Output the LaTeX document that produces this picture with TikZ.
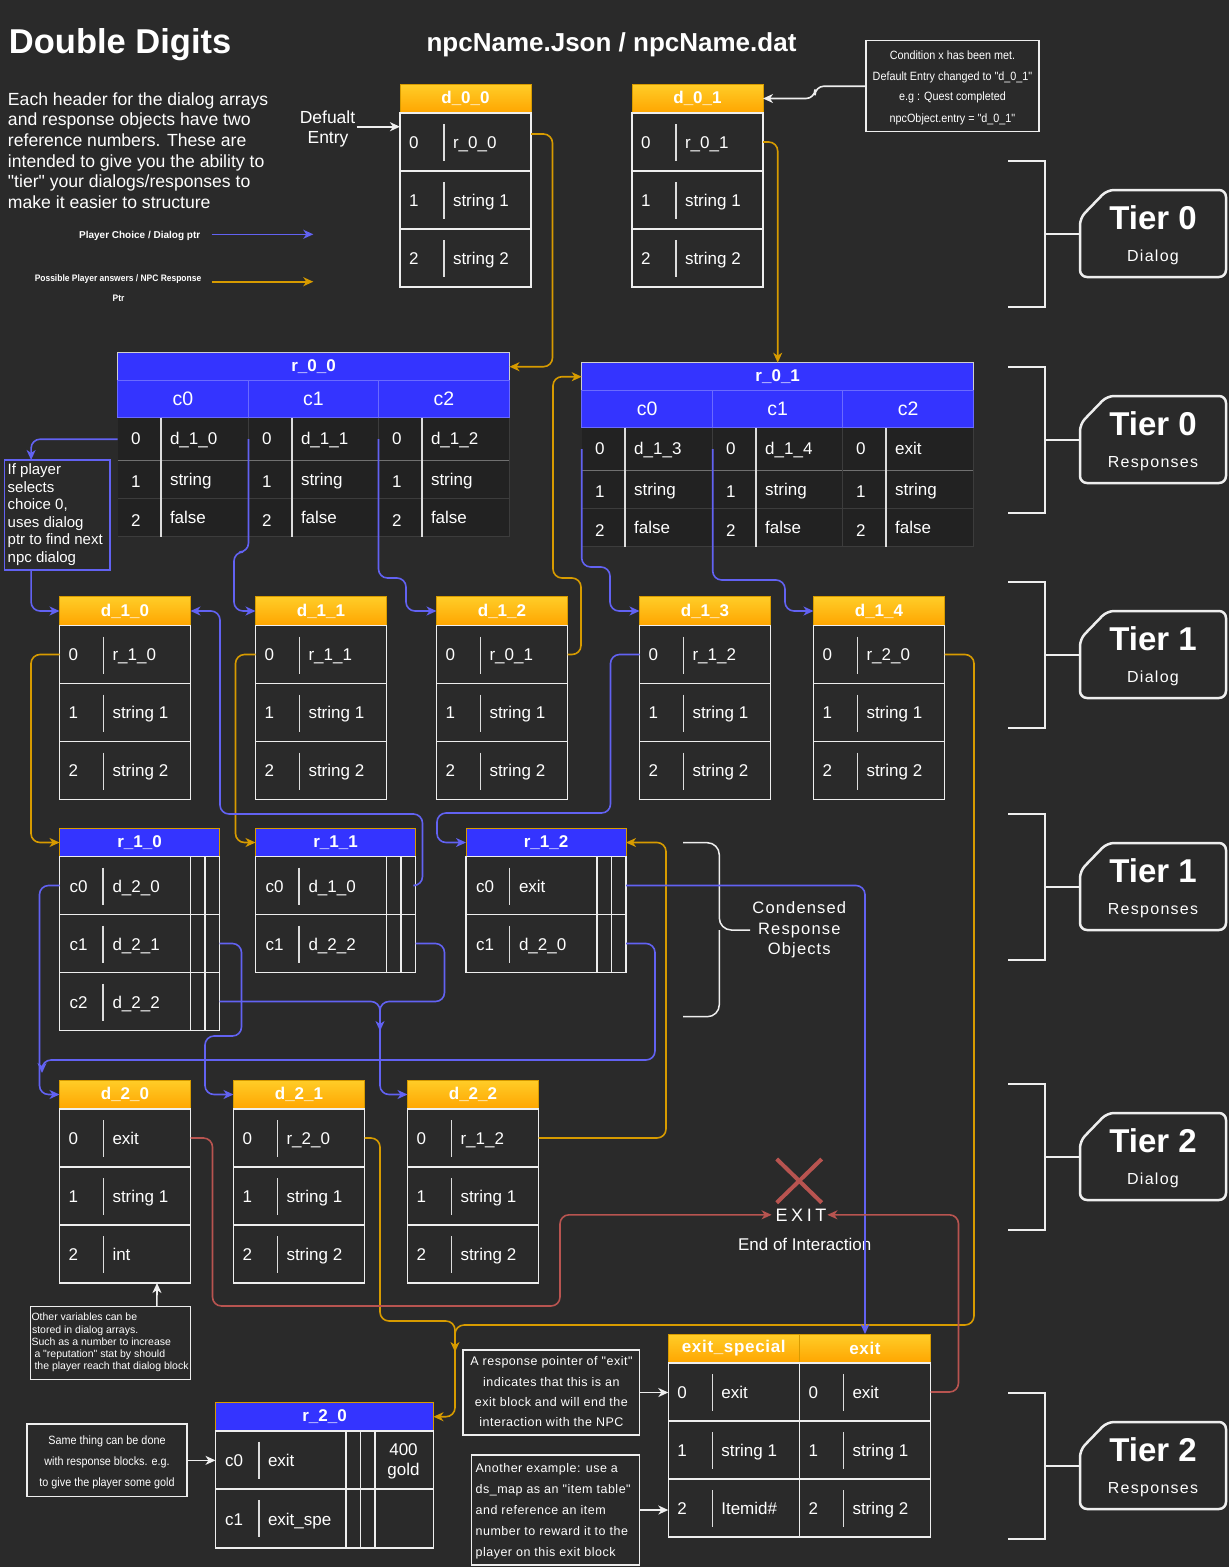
\documentclass[tikz,border=0pt]{standalone}
\usepackage{fontspec}
\setmainfont{Liberation Sans}[Ligatures=TeXOff]
\newfontfamily\condfont{Liberation Sans}[FakeStretch=0.9,Ligatures=TeXOff]
\usetikzlibrary{arrows.meta}

\definecolor{bgc}{HTML}{2A2A2A}
\definecolor{hblue}{HTML}{3434FF}
\definecolor{subl}{HTML}{6A6AFF}
\definecolor{lblue}{HTML}{6262F2}
\definecolor{lor}{HTML}{D79B00}
\definecolor{ored}{HTML}{B85450}
\definecolor{otop}{HTML}{FFCD28}
\definecolor{obot}{HTML}{FFA500}
\definecolor{wl}{HTML}{EEEEEE}
\definecolor{sepc}{HTML}{DDDDDD}
\definecolor{bodyc}{HTML}{222222}
\definecolor{rlone}{HTML}{707070}
\definecolor{rltwo}{HTML}{3C3C3C}
\definecolor{hdrl}{HTML}{CFCFCF}

\newcommand\fsz[1]{\fontsize{#1}{#1}\selectfont}

\tikzset{
  base/.style={inner sep=0pt, outer sep=0pt},
  txt/.style={base, text=white, anchor=base west, font=\fsz{17}},
  ctxt/.style={base, text=white, anchor=base, font=\fsz{17}},
  dhead/.style={base, draw=lor, line width=1pt, top color=otop, bottom color=obot,
    minimum width=131pt, minimum height=29pt, anchor=north west, text=white, font={\bfseries\fsz{17}}},
  drow/.style={base, draw=wl, line width=1.6pt, minimum width=131pt, minimum height=58pt, anchor=north west},
  rrow/.style={base, draw=wl, line width=1.6pt, minimum width=160pt, minimum height=58pt, anchor=north west},
  sepl/.style={draw=sepc, line width=1.5pt},
  sepw/.style={draw=wl, line width=1.5pt},
  rhead/.style={base, draw=lor, line width=1pt, fill=hblue, minimum height=28pt, anchor=north west,
    text=white, font={\bfseries\fsz{17}}},
  bhead/.style={base, draw=hdrl, line width=1pt, fill=hblue, minimum width=392pt, minimum height=28pt,
    anchor=north west, text=white, font={\bfseries\fsz{17}}},
  bsub/.style={base, draw=subl, line width=0.8pt, fill=hblue, minimum height=37pt, anchor=north west,
    text=white, font=\fsz{19.5}},
  bcell/.style={base, anchor=north west, minimum height=43pt},
  rlo/.style={draw=rlone, line width=1.5pt},
  rlt/.style={draw=rltwo, line width=1pt},
  tip/.style={-{Stealth[length=10pt,width=9pt,inset=3pt]}},
  bconn/.style={draw=lblue, line width=1.6pt, rounded corners=9pt, tip},
  oconn/.style={draw=lor, line width=1.6pt, rounded corners=9pt, tip},
  rconn/.style={draw=ored, line width=1.6pt, rounded corners=9pt, tip},
  wconn/.style={draw=wl, line width=1.6pt, rounded corners=9pt, tip},
  note/.style={base, draw=wl, line width=1.5pt, anchor=north west},
  brk/.style={draw=wl, line width=2.5pt},
  tierbox/.style={draw=wl, line width=2.5pt, rounded corners=7pt},
}

% dialog row: name, x, top, num, text
\newcommand\drowm[5]{%
  \node[drow] (#1) at ({#2},{#3}) {};
  \node[txt] (#1-n) at ({#2+9},{#3+35}) {#4};
  \draw[sepl] ({#2+44},{#3+11}) -- ({#2+44},{#3+48});
  \node[txt] (#1-t) at ({#2+53},{#3+35}) {#5};}
% dialog table: name, x, y, title, t0, t1, t2
\newcommand\dtab[7]{%
  \node[dhead] (#1) at ({#2},{#3}) {#4};
  \drowm{#1-0}{#2}{#3+29}{0}{#5}
  \drowm{#1-1}{#2}{#3+87}{1}{#6}
  \drowm{#1-2}{#2}{#3+145}{2}{#7}}
% condensed response row: name, x, top, label, text
\newcommand\rrowm[5]{%
  \node[rrow] (#1) at ({#2},{#3}) {};
  \draw[sepw] ({#2+131},{#3}) -- ({#2+131},{#3+58});
  \draw[sepw] ({#2+145.5},{#3}) -- ({#2+145.5},{#3+58});
  \node[txt] (#1-n) at ({#2+10},{#3+36}) {#4};
  \draw[sepl] ({#2+43.5},{#3+11}) -- ({#2+43.5},{#3+48});
  \node[txt] (#1-t) at ({#2+53},{#3+36}) {#5};}
% big response column: name, colx, y, width, t0
\newcommand\bcolm[5]{%
  \node[bcell, minimum width=#4pt] (#1) at ({#2},{#3+65}) {};
  \draw[sepl] ({#2+43.5},{#3+65}) -- ({#2+43.5},{#3+184});
  \node[txt] (#1-n0) at ({#2+13.5},{#3+92}) {0};
  \node[txt] (#1-t0) at ({#2+52.5},{#3+92}) {#5};
  \node[txt] (#1-n1) at ({#2+13.5},{#3+135}) {1};
  \node[txt] (#1-t1) at ({#2+52.5},{#3+133}) {string};
  \node[txt] (#1-n2) at ({#2+13.5},{#3+173.5}) {2};
  \node[txt] (#1-t2) at ({#2+52.5},{#3+170.5}) {false};}
% big response table: name, x, y, title, t0, t1, t2
\newcommand\bigrtab[7]{%
  \fill[bodyc] ({#2},{#3+65}) rectangle ({#2+392},{#3+184});
  \draw[rlo] ({#2},{#3+108}) -- ({#2+392},{#3+108});
  \draw[rlt] ({#2},{#3+146}) -- ({#2+392},{#3+146});
  \draw[rlt] ({#2},{#3+184}) -- ({#2+392},{#3+184});
  \draw[rlt] ({#2+131},{#3+65}) -- ({#2+131},{#3+184});
  \draw[rlt] ({#2+261},{#3+65}) -- ({#2+261},{#3+184});
  \draw[rlt] ({#2+392},{#3+65}) -- ({#2+392},{#3+184});
  \node[bhead] (#1) at ({#2},{#3}) {#4};
  \node[bsub, minimum width=131pt] (#1-h0) at ({#2},{#3+28}) {c0};
  \node[bsub, minimum width=130pt] (#1-h1) at ({#2+131},{#3+28}) {c1};
  \node[bsub, minimum width=131pt] (#1-h2) at ({#2+261},{#3+28}) {c2};
  \bcolm{#1-c0}{#2}{#3}{131}{#5}
  \bcolm{#1-c1}{#2+131}{#3}{130}{#6}
  \bcolm{#1-c2}{#2+261}{#3}{131}{#7}}
% tier block: name, top, number, label
\newcommand\tierm[4]{%
  \draw[brk] (1008,{#2}) -- (1045,{#2}) -- (1045,{#2+146}) -- (1008,{#2+146});
  \draw[brk] (1045,{#2+73}) -- (1080,{#2+73});
  \draw[tierbox] (1080,{#2+57}) -- (1107,{#2+29}) -- (1226,{#2+29}) -- (1226,{#2+116}) -- (1080,{#2+116}) -- cycle;
  \node[ctxt, font={\bfseries\fsz{33}}] (#1-a) at (1153,{#2+68}) {Tier #3};
  \node[ctxt, font={\fsz{16}\addfontfeature{LetterSpace=8}}] (#1-b) at (1153,{#2+100}) {#4};}

\begin{document}
\begin{tikzpicture}[x=1pt,y=-1pt]
\fill[bgc] (0,0) rectangle (1229,1567);
\useasboundingbox (0,0) rectangle (1229,1567);

% titles
\node[txt, font={\bfseries\fsz{34.5}}] (title) at (9,53.3) {Double Digits};
\node[ctxt, font={\bfseries\fsz{26}}] (file) at (611.5,51.7) {npcName.Json / npcName.dat};

% description
\node[txt, font=\fsz{17.6}] (desc1) at (8,105) {Each header for the dialog arrays};
\node[txt, font=\fsz{17.6}] (desc2) at (8,125.7) {and response objects have two};
\node[txt, font=\fsz{17.6}] (desc3) at (8,146.4) {reference numbers. These are};
\node[txt, font=\fsz{17.6}] (desc4) at (8,167.1) {intended to give you the ability to};
\node[txt, font=\fsz{17.6}] (desc5) at (8,187.8) {"tier" your dialogs/responses to};
\node[txt, font=\fsz{17.6}] (desc6) at (8,208.5) {make it easier to structure};

% legend
\node[ctxt, font={\bfseries\fsz{10}}] (leg1) at (139.7,238) {Player Choice / Dialog ptr};
\node[ctxt, font={\condfont\bfseries\fsz{9.4}}] (leg2) at (118,281) {Possible Player answers / NPC Response};
\node[ctxt, font={\condfont\bfseries\fsz{9.4}}] (leg3) at (118.5,301.5) {Ptr};
\coordinate (lg1a) at (211.7,234.3); \coordinate (lg1b) at (313.3,234.3);
\coordinate (lg2a) at (211.7,281.7); \coordinate (lg2b) at (313.3,281.7);
\draw[bconn] (lg1a) -- (lg1b);
\draw[oconn] (lg2a) -- (lg2b);

% default entry
\node[ctxt, font=\fsz{17.5}] (def1) at (327.5,123) {Defualt};
\node[ctxt, font=\fsz{17.5}] (def2) at (328,143.3) {Entry};
\coordinate (defa) at (356.7,126.7);

% condition box
\node[note, minimum width=173pt, minimum height=91pt] (cond) at (866,40.7) {};
\node[ctxt, font={\condfont\fsz{12}}] (cond1) at (952.5,59) {Condition x has been met.};
\node[ctxt, font={\condfont\fsz{12}}] (cond2) at (952.5,80.5) {Default Entry changed to "d\_0\_1"};
\node[ctxt, font={\condfont\fsz{12}}] (cond3) at (952.5,100.5) {e.g : Quest completed};
\node[ctxt, font={\condfont\fsz{12}}] (cond4) at (952.5,122) {npcObject.entry = "d\_0\_1"};

% tier 0 dialogs
\dtab{d00}{400}{84}{d\_0\_0}{r\_0\_0}{string 1}{string 2}
\dtab{d01}{632}{84}{d\_0\_1}{r\_0\_1}{string 1}{string 2}

% tier 0 responses
\bigrtab{r00}{117.5}{352.7}{r\_0\_0}{d\_1\_0}{d\_1\_1}{d\_1\_2}
\bigrtab{r01}{581.7}{362.7}{r\_0\_1}{d\_1\_3}{d\_1\_4}{exit}

% info box
\node[note, draw=lblue, minimum width=105.6pt, minimum height=110pt] (info) at (4.6,460) {};
\node[txt, font=\fsz{15}] (info1) at (7.7,474.5) {If player};
\node[txt, font=\fsz{15}] (info2) at (7.7,492) {selects};
\node[txt, font=\fsz{15}] (info3) at (7.7,509.5) {choice 0,};
\node[txt, font=\fsz{15}] (info4) at (7.7,527) {uses dialog};
\node[txt, font=\fsz{15}] (info5) at (7.7,544.5) {ptr to find next};
\node[txt, font=\fsz{15}] (info6) at (7.7,562) {npc dialog};

% tier 1 dialogs
\dtab{d10}{59.5}{596.5}{d\_1\_0}{r\_1\_0}{string 1}{string 2}
\dtab{d11}{255.5}{596.5}{d\_1\_1}{r\_1\_1}{string 1}{string 2}
\dtab{d12}{436.5}{596.5}{d\_1\_2}{r\_0\_1}{string 1}{string 2}
\dtab{d13}{639.5}{596.5}{d\_1\_3}{r\_1\_2}{string 1}{string 2}
\dtab{d14}{813.5}{596.5}{d\_1\_4}{r\_2\_0}{string 1}{string 2}

% tier 1 responses
\node[rhead, minimum width=160pt] (r10) at (59.5,828.5) {r\_1\_0};
\rrowm{r10-0}{59.5}{856.5}{c0}{d\_2\_0}
\rrowm{r10-1}{59.5}{914.5}{c1}{d\_2\_1}
\rrowm{r10-2}{59.5}{972.5}{c2}{d\_2\_2}
\node[rhead, minimum width=160pt] (r11) at (255.5,828.5) {r\_1\_1};
\rrowm{r11-0}{255.5}{856.5}{c0}{d\_1\_0}
\rrowm{r11-1}{255.5}{914.5}{c1}{d\_2\_2}
\node[rhead, minimum width=160pt] (r12) at (466,828.5) {r\_1\_2};
\rrowm{r12-0}{466}{856.5}{c0}{exit}
\rrowm{r12-1}{466}{914.5}{c1}{d\_2\_0}

% condensed brace
\draw[draw=wl, line width=1.5pt, rounded corners=12pt] (683,842.7) -- (719.3,842.7) -- (719.3,930) -- (750,930);
\draw[draw=wl, line width=1.5pt, rounded corners=12pt] (683,1016.7) -- (719.3,1016.7) -- (719.3,930);
\node[ctxt, font={\fsz{16.5}\addfontfeature{LetterSpace=7}}] (cro1) at (799.3,913.5) {Condensed};
\node[ctxt, font={\fsz{16.5}\addfontfeature{LetterSpace=7}}] (cro2) at (799.3,934) {Response};
\node[ctxt, font={\fsz{16.5}\addfontfeature{LetterSpace=7}}] (cro3) at (799.3,954.5) {Objects};

% tier 2 dialogs
\dtab{d20}{59.5}{1080}{d\_2\_0}{exit}{string 1}{int}
\dtab{d21}{233.5}{1080}{d\_2\_1}{r\_2\_0}{string 1}{string 2}
\dtab{d22}{407.5}{1080}{d\_2\_2}{r\_1\_2}{string 1}{string 2}

% other variables note
\node[note, minimum width=160pt, minimum height=72.6pt] (note1) at (30.4,1306.7) {};
\node[txt, font=\fsz{10.5}] (nt1) at (31.5,1320) {Other variables can be};
\node[txt, font=\fsz{10.5}] (nt2) at (32,1333) {stored in dialog arrays.};
\node[txt, font=\fsz{10.5}] (nt3) at (31.5,1345) {Such as a number to increase};
\node[txt, font=\fsz{10.5}] (nt4) at (34.5,1357.5) {a "reputation" stat by should};
\node[txt, font=\fsz{10.5}] (nt5) at (34.5,1369.5) {the player reach that dialog block};

% EXIT
\draw[ored, line width=4pt] (776.7,1159) -- (821.7,1202.7);
\draw[ored, line width=4pt] (821.7,1159) -- (776.7,1202.7);
\node[ctxt, font={\fsz{18}\addfontfeature{LetterSpace=20}}] (exittxt) at (801,1221) {EXIT};
\node[ctxt, font=\fsz{17}] (eoi) at (804.7,1250) {End of Interaction};

% tier 2 responses
\node[rhead, minimum width=218pt] (r20) at (215.5,1402.7) {r\_2\_0};
\node[rrow, minimum width=218pt, minimum height=58.5pt] (r20-0) at (215.5,1430.7) {};
\node[rrow, minimum width=218pt, minimum height=58.5pt] (r20-1) at (215.5,1489.2) {};
\draw[sepw] (346,1430.7) -- (346,1547.7);
\draw[sepw] (360.7,1430.7) -- (360.7,1547.7);
\draw[sepw] (375,1430.7) -- (375,1547.7);
\node[txt] (r20-0n) at (225,1466.5) {c0};
\draw[sepl] (258.8,1441.7) -- (258.8,1478.7);
\node[txt] (r20-0t) at (268,1466.5) {exit};
\node[txt] (r20-1n) at (225,1525) {c1};
\draw[sepl] (258.8,1500.2) -- (258.8,1537.2);
\node[txt] (r20-1t) at (268,1525) {exit\_spe};
\node[ctxt] (r20-g1) at (403.5,1455) {400};
\node[ctxt] (r20-g2) at (403.5,1475) {gold};

\node[note, minimum width=160pt, minimum height=72.7pt] (note2) at (27,1424) {};
\node[ctxt, font={\condfont\fsz{12}}] (ns1) at (107,1444) {Same thing can be done};
\node[ctxt, font={\condfont\fsz{12}}] (ns2) at (107,1465) {with response blocks. e.g.};
\node[ctxt, font={\condfont\fsz{12}}] (ns3) at (107,1486) {to give the player some gold};

\node[note, minimum width=176.7pt, minimum height=85pt] (note3) at (463,1350) {};
\node[ctxt, font={\fsz{12.5}\addfontfeature{LetterSpace=4}}] (na1) at (551.4,1365) {A response pointer of "exit"};
\node[ctxt, font={\fsz{12.5}\addfontfeature{LetterSpace=4}}] (na2) at (551.4,1386) {indicates that this is an};
\node[ctxt, font={\fsz{12.5}\addfontfeature{LetterSpace=4}}] (na3) at (551.4,1406) {exit block and will end the};
\node[ctxt, font={\fsz{12.5}\addfontfeature{LetterSpace=4}}] (na4) at (551.4,1426.5) {interaction with the NPC};

\node[note, minimum width=168.3pt, minimum height=110pt] (note4) at (471.4,1455) {};
\node[txt, font={\fsz{12.5}\addfontfeature{LetterSpace=4}}] (nb1) at (475.6,1472) {Another example: use a};
\node[txt, font={\fsz{12.5}\addfontfeature{LetterSpace=4}}] (nb2) at (475.6,1493) {ds\_map as an "item table"};
\node[txt, font={\fsz{12.5}\addfontfeature{LetterSpace=4}}] (nb3) at (475.6,1514) {and reference an item};
\node[txt, font={\fsz{12.5}\addfontfeature{LetterSpace=4}}] (nb4) at (475.6,1535) {number to reward it to the};
\node[txt, font={\fsz{12.5}\addfontfeature{LetterSpace=4}}] (nb5) at (475.6,1556) {player on this exit block};

\node[dhead, font={\bfseries\fsz{17}\addfontfeature{LetterSpace=4}}] (es) at (668.3,1334) {exit\_special};
\drowm{es-0}{668.3}{1363}{0}{exit}
\drowm{es-1}{668.3}{1421}{1}{string 1}
\drowm{es-2}{668.3}{1479}{2}{Itemid\#}
\node[dhead, font={\bfseries\fsz{17}\addfontfeature{LetterSpace=4}}] (ex) at (799.5,1334) {exit};
\drowm{ex-0}{799.5}{1363}{0}{exit}
\drowm{ex-1}{799.5}{1421}{1}{string 1}
\drowm{ex-2}{799.5}{1479}{2}{string 2}

% tiers
\tierm{t0d}{161}{0}{Dialog}
\tierm{t0r}{367}{0}{Responses}
\tierm{t1d}{582}{1}{Dialog}
\tierm{t1r}{814}{1}{Responses}
\tierm{t2d}{1084}{2}{Dialog}
\tierm{t2r}{1393}{2}{Responses}

% ---- connectors ----
% white
\draw[wconn] (defa) -- (defa -| d00-0.west);
\draw[wconn] (cond.west) -- (815,86.2) |- (d01.east);
\draw[wconn] ([xshift=46.5pt]note1.north) -- ([xshift=32pt]d20-2.south);
\draw[wconn] (note2.east) -- (note2.east -| r20-0.west);
\draw[wconn] (note3.east) -- (note3.east -| es-0.west);
\draw[wconn] (note4.east) -- (note4.east -| es-2.west);

% orange
\draw[oconn] ([yshift=8pt]d00-0.east) -- (552.5,134) |- (r00.east);
\draw[oconn] (d01-0.east) -| (r01.north);
\draw[oconn] (d12-0.east) -| (581,578) -| (553,376.7) -- (r01.west);
\draw[oconn] (d10-0.west) -- ++(-28.5,0) |- (r10.west);
\draw[oconn] (d11-0.west) -- ++(-20,0) |- (r11.west);
\draw[oconn] (d14-0.east) -| (974,1325) -| (455,1416.7) -- (r20.east);
\coordinate (r20in) at (455,1352);
\draw[oconn] (d21-0.east) -| (380,1321) -| (r20in);
\draw[oconn] (d22-0.east) -| (666,842.5) -- (r12.east);

% blue
\draw[bconn] (r00-c0.west) -| ([xshift=26.5pt]info.north west);
\draw[bconn] ([xshift=26.5pt]info.south west) |- (d10.west);
\draw[bconn] (r00-c1.west) |- (234,552) |- (d11.west);
\draw[bconn] (r00-c2.west) |- (406,578) |- (d12.west);
\draw[bconn] (r01-c0.west) |- (610,567) |- (d13.west);
\draw[bconn] (r01-c1.west) |- (785,580) |- (d14.west);
\draw[bconn] (d13-0.west) -- ++(-29,0) |- (437,813) |- (r12.west);
\draw[bconn] (r10-0.west) -- ++(-20,0) |- (d20.west);
\draw[bconn] (r10-1.east) -- ++(22,0) |- (205,1036) |- (d21.west);
\draw[bconn] (r10-2.east) -| ([xshift=-27.5pt]d22.west) -- (d22.west);
\coordinate (m22) at (380,1031);
\draw[bconn] (r11-1.east) -- ++(29,0) |- (380,1001.5) -- (m22);
\draw[bconn] (r11-0.east) -- ++(7,0) |- (220,814) |- (d10.east);
\draw[bconn] (r12-0.east) -| (ex.north);
\coordinate (d20top) at (42,1073);
\draw[bconn] (r12-1.east) -- ++(29,0) |- (42,1060) -- (d20top);

% red
\draw[rconn] (d20-0.east) -- ++(22,0) |- (560,1306) |- ([xshift=-4pt]exittxt.west);
\draw[rconn] (ex-0.east) -- ++(28,0) |- ([xshift=1pt]exittxt.east);
\end{tikzpicture}
\end{document}
